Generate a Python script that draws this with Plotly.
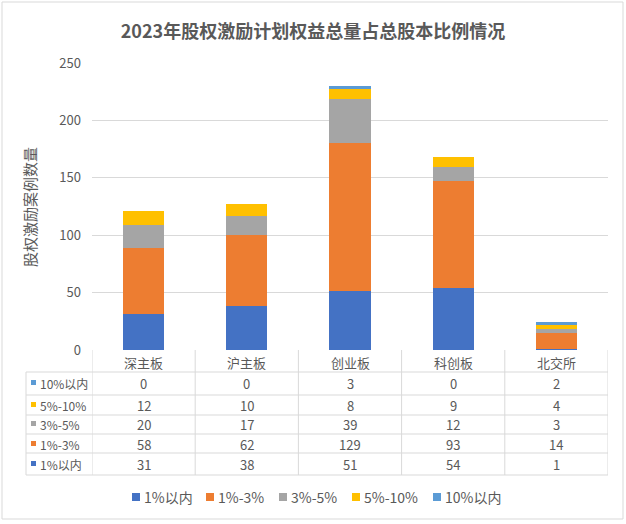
import plotly.graph_objects as go

# ---- data ----
categories = ["深主板", "沪主板", "创业板", "科创板", "北交所"]
series_names = ["1%以内", "1%-3%", "3%-5%", "5%-10%", "10%以内"]
s_lt1 = [31, 38, 51, 54, 1]
s_1_3 = [58, 62, 129, 93, 14]
s_3_5 = [20, 17, 39, 12, 3]
s_5_10 = [12, 10, 8, 9, 4]
s_10 = [0, 0, 3, 0, 2]
series_values = [s_lt1, s_1_3, s_3_5, s_5_10, s_10]
colors = ["#4472C4", "#ED7D31", "#A5A5A5", "#FFC000", "#5B9BD5"]
y_ticks = [0, 50, 100, 150, 200, 250]

title_text = "2023年股权激励计划权益总量占总股本比例情况"
y_title = "股权激励案例数量"

# ---- layout geometry (pixels) ----
W, H = 626, 524
L, R, T, B = 92, 608, 63, 350
FONT = "Noto Sans CJK SC"
GRAY = "#595959"
LINE = "#D9D9D9"


def pxx(p):
    return (p - L) / (R - L)


def pxy(p):
    return (B - p) / (B - T)


fig = go.Figure()
for name, vals, col in zip(series_names, series_values, colors):
    fig.add_trace(go.Bar(
        x=categories, y=vals, name=name, width=0.4,
        marker=dict(color=col, line=dict(width=0)),
        showlegend=False,
    ))

shapes = []
annotations = []

# outer chart border
shapes.append(dict(type="rect", xref="paper", yref="paper",
                   x0=pxx(2), x1=pxx(623), y0=pxy(2), y1=pxy(519),
                   line=dict(color=LINE, width=1), layer="below"))

# table grid
row_lines = [372, 395, 415, 434, 453, 475]
for yy in row_lines:
    shapes.append(dict(type="line", xref="paper", yref="paper",
                       x0=pxx(26), x1=pxx(R), y0=pxy(yy), y1=pxy(yy),
                       line=dict(color=LINE, width=1)))
shapes.append(dict(type="line", xref="paper", yref="paper",
                   x0=pxx(26), x1=pxx(26), y0=pxy(372), y1=pxy(475),
                   line=dict(color=LINE, width=1)))
for k in range(len(categories) + 1):
    shapes.append(dict(type="line", xref="x", yref="paper",
                       x0=k - 0.5, x1=k - 0.5, y0=pxy(B), y1=pxy(475),
                       line=dict(color=LINE, width=1)))

# header row (category names)
for c in categories:
    annotations.append(dict(x=c, xref="x", y=pxy(362), yref="paper",
                            text=c, showarrow=False, yanchor="middle",
                            font=dict(family=FONT, size=13, color=GRAY)))

# table rows: reversed series order
row_centers = [383, 405, 424, 444, 464]
for ri, si in enumerate(reversed(range(len(series_names)))):
    yc = row_centers[ri]
    shapes.append(dict(type="rect", xref="paper", yref="paper",
                       x0=pxx(31), x1=pxx(36), y0=pxy(yc - 3), y1=pxy(yc + 2),
                       fillcolor=colors[si], line=dict(width=0)))
    annotations.append(dict(x=pxx(38), xref="paper", y=pxy(yc), yref="paper",
                            text=series_names[si], showarrow=False,
                            xanchor="left", yanchor="middle",
                            font=dict(family=FONT, size=12, color=GRAY)))
    for ci, c in enumerate(categories):
        annotations.append(dict(x=c, xref="x", y=pxy(yc), yref="paper",
                                text=str(series_values[si][ci]), showarrow=False,
                                yanchor="middle",
                                font=dict(family=FONT, size=13, color=GRAY)))

# legend (bottom)
legend_sq_x = [132, 206, 279, 352, 433]
leg_y = 497
for name, col, sx in zip(series_names, colors, legend_sq_x):
    shapes.append(dict(type="rect", xref="paper", yref="paper",
                       x0=pxx(sx), x1=pxx(sx + 8), y0=pxy(leg_y - 4), y1=pxy(leg_y + 4),
                       fillcolor=col, line=dict(width=0)))
    annotations.append(dict(x=pxx(sx + 10), xref="paper", y=pxy(leg_y), yref="paper",
                            text=name, showarrow=False, xanchor="left", yanchor="middle",
                            font=dict(family=FONT, size=14, color=GRAY)))

# y axis title
annotations.append(dict(x=pxx(29), xref="paper", y=pxy(207), yref="paper",
                        text=y_title, showarrow=False, textangle=-90,
                        xanchor="center", yanchor="middle",
                        font=dict(family=FONT, size=15, color=GRAY)))

fig.update_layout(
    width=W, height=H, autosize=False,
    margin=dict(l=L, r=W - R, t=T, b=H - B, pad=0),
    paper_bgcolor="white", plot_bgcolor="white",
    barmode="stack", bargap=0.6,
    title=dict(text="<b>" + title_text + "</b>", x=0.5, xanchor="center",
               xref="container", y=1 - 32 / H, yanchor="middle", yref="container",
               font=dict(family=FONT, size=18, color=GRAY)),
    xaxis=dict(type="category", range=[-0.5, len(categories) - 0.5],
               showticklabels=False, showgrid=False, zeroline=False,
               showline=False, fixedrange=True),
    yaxis=dict(range=[0, 250], tickvals=y_ticks, showgrid=True, gridcolor=LINE,
               gridwidth=1, zeroline=False, showline=False, ticks="",
               ticklabelstandoff=10,
               tickfont=dict(family=FONT, size=13, color=GRAY)),
    shapes=shapes, annotations=annotations,
    showlegend=False,
)

fig.write_html("out.html",
               config={"displayModeBar": False},
               post_script="document.body.style.margin='0px';document.body.style.padding='0px';")
